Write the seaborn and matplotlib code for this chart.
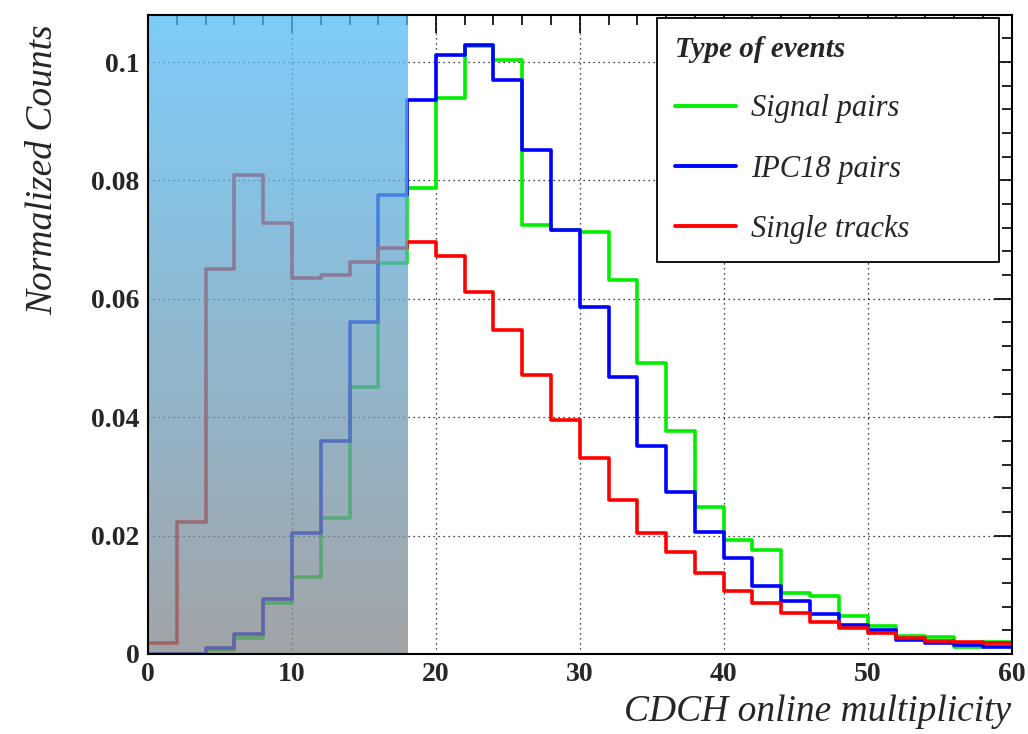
import numpy as np
import pandas as pd
import matplotlib
matplotlib.use("Agg")
import matplotlib.pyplot as plt
from matplotlib.lines import Line2D
from matplotlib.ticker import MultipleLocator, FixedLocator, FuncFormatter
import seaborn as sns

# ---- data (bin width 2, range 0-60) ----
bin_edges = list(range(0, 62, 2))
signal_pairs = [0.0, 0.0, 0.0007, 0.0027, 0.0086, 0.0130, 0.0230, 0.0451, 0.0660, 0.0787,
                0.0940, 0.1027, 0.1003, 0.0725, 0.0717, 0.0713, 0.0632, 0.0491, 0.0377, 0.0248,
                0.0193, 0.0176, 0.0103, 0.0098, 0.0064, 0.0047, 0.0030, 0.0029, 0.0012, 0.0020]
ipc18_pairs = [0.0, 0.0, 0.0010, 0.0034, 0.0093, 0.0204, 0.0360, 0.0560, 0.0776, 0.0936,
               0.1012, 0.1029, 0.0970, 0.0851, 0.0716, 0.0586, 0.0468, 0.0351, 0.0274, 0.0206,
               0.0162, 0.0115, 0.0090, 0.0067, 0.0049, 0.0040, 0.0024, 0.0018, 0.0015, 0.0012]
single_tracks = [0.0018, 0.0223, 0.0650, 0.0809, 0.0728, 0.0635, 0.0640, 0.0662, 0.0686, 0.0696,
                 0.0672, 0.0611, 0.0547, 0.0471, 0.0395, 0.0331, 0.0260, 0.0204, 0.0172, 0.0137,
                 0.0106, 0.0086, 0.0069, 0.0054, 0.0044, 0.0035, 0.0027, 0.0022, 0.0020, 0.0018]
series_names = ["Signal pairs", "IPC18 pairs", "Single tracks"]
series_colors = ["#00ee00", "#0000ff", "#ff0000"]
x_ticks = [0, 10, 20, 30, 40, 50, 60]
y_ticks = [0, 0.02, 0.04, 0.06, 0.08, 0.1]
shade_limit = 18

centers = [(bin_edges[i] + bin_edges[i + 1]) / 2 for i in range(len(bin_edges) - 1)]
rows = []
for name, vals in zip(series_names, [signal_pairs, ipc18_pairs, single_tracks]):
    for c, v in zip(centers, vals):
        rows.append({"x": c, "w": v, "type": name})
df = pd.DataFrame(rows)

sns.set_style("white")
plt.rcParams["font.family"] = ["Liberation Serif", "DejaVu Serif"]

fig = plt.figure(figsize=(10.28, 7.34), dpi=100)
ax = fig.add_axes([0.144, 0.109, 0.840, 0.871])

for name, col in zip(series_names, series_colors):
    sub = df[df["type"] == name]
    sns.histplot(data=sub, x="x", weights="w", bins=bin_edges, element="step",
                 fill=False, color=col, linewidth=2.6, ax=ax, zorder=3)

ymax = 0.108
ax.set_xlim(0, 60)
ax.set_ylim(0, ymax)

# gradient shade over low-multiplicity region
n = 256
top = np.array([82, 188, 248]) / 255.0
bot = np.array([130, 134, 138]) / 255.0
t = np.linspace(0, 1, n)[:, None]
grad = top * (1 - t) + bot * t
rgba = np.zeros((n, 1, 4))
rgba[:, 0, :3] = grad
rgba[:, 0, 3] = 0.75
ax.imshow(rgba, extent=[0, shade_limit, 0, ymax], aspect="auto", zorder=4,
          interpolation="bilinear")
ax.set_xlim(0, 60)
ax.set_ylim(0, ymax)

# grid
ax.grid(True, which="major", color="black", linestyle=(0, (1, 3)), linewidth=0.9)
ax.set_axisbelow(True)

# ticks
ax.xaxis.set_major_locator(FixedLocator(x_ticks))
ax.xaxis.set_minor_locator(MultipleLocator(2))
ax.yaxis.set_major_locator(FixedLocator(y_ticks))
ax.yaxis.set_minor_locator(MultipleLocator(0.004))
ax.yaxis.set_major_formatter(FuncFormatter(lambda v, p: "0" if v == 0 else ("%g" % v)))
ax.tick_params(which="both", direction="in", top=True, right=True, color="black",
               width=1.2)
ax.tick_params(which="major", length=13, labelsize=20, pad=6)
ax.tick_params(which="minor", length=7)
for lab in ax.get_xticklabels() + ax.get_yticklabels():
    lab.set_fontweight("bold")
for s in ax.spines.values():
    s.set_color("black")
    s.set_linewidth(1.5)
    s.set_zorder(6)

ax.set_xlabel("CDCH online multiplicity", fontsize=27, style="italic", loc="right",
              labelpad=5)
ax.set_ylabel("Normalized Counts", fontsize=27, style="italic", loc="top")
ax.yaxis.set_label_coords(-0.102, 0.985, transform=ax.transAxes)
ax.yaxis.label.set_horizontalalignment("right")

handles = [Line2D([], [], color=c, linewidth=2.8) for c in series_colors]
leg = ax.legend(handles, series_names, title="Type of events", loc="upper left",
                bbox_to_anchor=(0.589, 0.620, 0.397, 0.375), mode="expand",
                borderaxespad=0, frameon=True, fancybox=False,
                edgecolor="black", framealpha=1, prop={"style": "italic", "size": 22},
                title_fontproperties={"style": "italic", "weight": "bold", "size": 21},
                handlelength=2.0, handletextpad=0.5, labelspacing=1.02, borderpad=0.6,
                alignment="left")
leg.get_frame().set_linewidth(1.3)
leg.set_zorder(7)

fig.savefig("out.png", dpi=100)
